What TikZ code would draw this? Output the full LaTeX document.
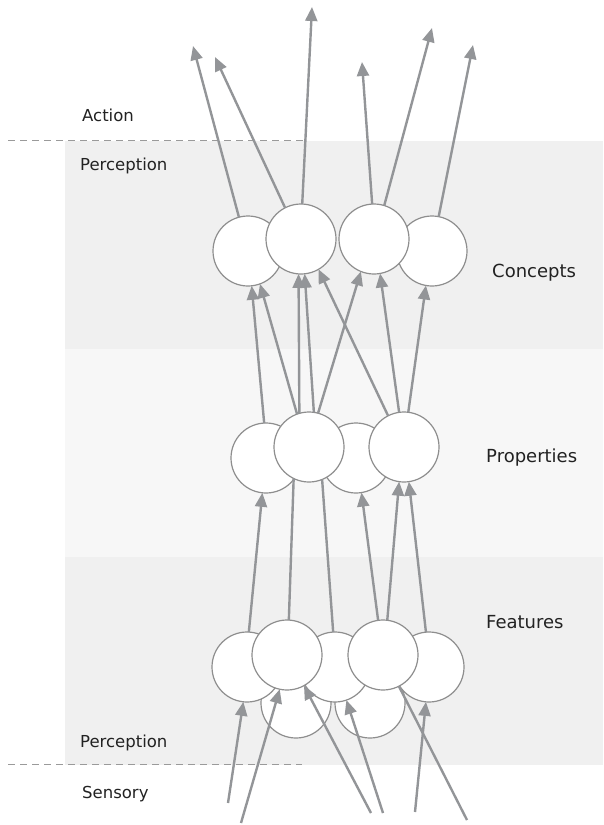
\documentclass[tikz,border=0pt]{standalone}
\usepackage{fontspec}
\setmainfont{DejaVu Sans}
\usetikzlibrary{arrows.meta}
\definecolor{arr}{HTML}{939598}
\definecolor{ring}{HTML}{8E8E8E}
\definecolor{bandA}{HTML}{F0F0F0}
\definecolor{bandB}{HTML}{F7F7F7}
\definecolor{txt}{HTML}{222222}
\definecolor{dashc}{HTML}{9A9A9A}
\begin{document}
\begin{tikzpicture}[x=1pt,y=-1pt,
 unit/.style={circle,draw=ring,fill=white,line width=1.2pt,minimum size=70pt,inner sep=0pt,outer sep=0pt},
 link/.style={draw=arr,line width=2.4pt,-{Triangle[length=14pt,width=12pt]}},
 plainlink/.style={draw=arr,line width=2.4pt},
 sepline/.style={draw=dashc,line width=1.4pt,dash pattern=on 7pt off 5pt},
 smalllab/.style={anchor=base west,inner sep=0pt,text=txt,font=\fontsize{16.5}{18}\selectfont},
 biglab/.style={anchor=base west,inner sep=0pt,text=txt,font=\fontsize{18}{20}\selectfont}]
\useasboundingbox (0,0) rectangle (603,825);
% bands
\fill[bandA] (65,141) rectangle (603,349);
\fill[bandB] (65,349) rectangle (603,557);
\fill[bandA] (65,557) rectangle (603,765);
% separators
\draw[sepline] (8,140.5) -- (305,140.5);
\draw[sepline] (8,764.5) -- (302,764.5);
% labels
\node[smalllab] (action) at (82,121) {Action};
\node[smalllab] (perctop) at (80,170) {Perception};
\node[smalllab] (percbot) at (80,747) {Perception};
\node[smalllab] (sensory) at (82,798) {Sensory};
\node[biglab] (concepts) at (492,277) {Concepts};
\node[biglab] (properties) at (486,462) {Properties};
\node[biglab] (features) at (486,628) {Features};
% concept units
\node[unit] (C1) at (248,251) {};
\node[unit] (C4) at (432,251) {};
\node[unit] (C2) at (301,239) {};
\node[unit] (C3) at (374,239) {};
% property units
\node[unit] (P1) at (266,458) {};
\node[unit] (P3) at (356,458) {};
\node[unit] (P2) at (309,447) {};
\node[unit] (P4) at (404,447) {};
% feature units
\node[unit] (L1) at (296,703) {};
\node[unit] (L2) at (370,703) {};
\node[unit] (F1) at (247,667) {};
\node[unit] (F3) at (335,667) {};
\node[unit] (F5) at (429,667) {};
\node[unit] (F2) at (287,655) {};
\node[unit] (F4) at (383,655) {};
% free ends
\coordinate (t1) at (193,46);
\coordinate (t2) at (215,57);
\coordinate (t3) at (312,7);
\coordinate (t4) at (362,62);
\coordinate (t5) at (432,28);
\coordinate (t6) at (473,45);
\coordinate (s1) at (228,803);
\coordinate (s2) at (241,823);
\coordinate (s3) at (371,813);
\coordinate (s4) at (383,813);
\coordinate (s5) at (415,812);
\coordinate (s6) at (467,820);
% concepts -> action
\draw[link] (C1.105) -- (t1);
\draw[link] (C2.117) -- (t2);
\draw[link] (C2.88) -- (t3);
\draw[link] (C3.93) -- (t4);
\draw[link] (C3.73) -- (t5);
\draw[link] (C4.79) -- (t6);
% properties -> concepts
\draw[link] (P1.93) -- (C1.-84);
\draw[link] (P2.110) -- (C1.-70);
\draw[link] (P2.106) -- (C2.-94);
\draw[link] (P2.82) -- (C2.-84);
\draw[link] (P2.75) -- (C3.-112);
\draw[link] (P4.117) -- (C2.-60);
\draw[link] (P4.98) -- (C3.-80);
\draw[link] (P4.83) -- (C4.-100);
% features -> properties
\draw[link] (F1.87) -- (P1.-96);
\draw[plainlink] (F2.87) -- (P2.-116);
\draw[plainlink] (F3.93) -- (P2.-68);
\draw[link] (F4.98) -- (P3.-81);
\draw[link] (F4.83) -- (P4.-98);
\draw[link] (F5.95) -- (P4.-82);
% sensory -> features
\draw[link] (s1) -- (F1.-96);
\draw[link] (s2) -- (F2.-102);
\draw[link] (s3) -- (F2.-61);
\draw[link] (s4) -- (F3.-71);
\draw[link] (s5) -- (F5.-95);
\draw[plainlink] (s6) -- (F4.-63);
\end{tikzpicture}
\end{document}
